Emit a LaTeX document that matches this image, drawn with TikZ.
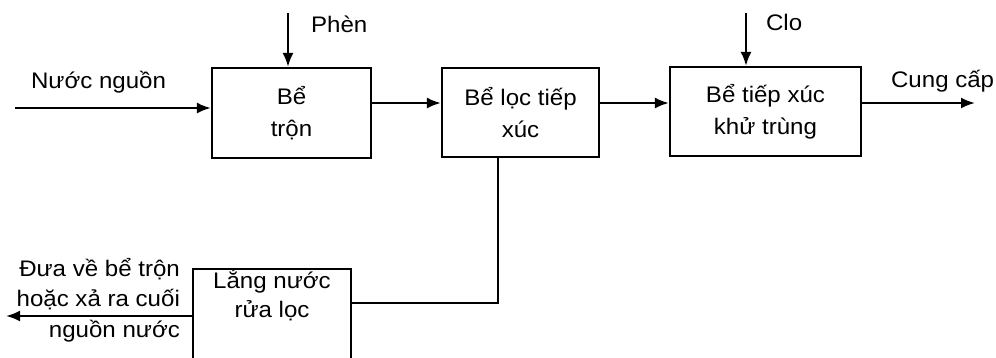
\documentclass[tikz,border=0pt]{standalone}
\usepackage{fontspec}
\setmainfont{Liberation Sans}[FakeStretch=1.07]
\usetikzlibrary{arrows.meta}
\begin{document}
\begin{tikzpicture}[x=1pt,y=-1pt,
  line width=2.2pt,
  arr/.style={-{Latex[length=14pt,width=11pt]}},
  tank/.style={draw,line width=2.2pt,inner sep=0pt},
  lbl/.style={inner sep=0pt,font=\fontsize{22.5}{32}\selectfont},
  boxtext/.style={inner sep=0pt,align=center,font=\fontsize{22.5}{32}\selectfont}]
\useasboundingbox (0,0) rectangle (996,357);
\clip (0,0) rectangle (996,357);
% tanks
\node[tank,minimum width=159pt,minimum height=90pt] (b1) at (291.5,113) {};
\node[tank,minimum width=157pt,minimum height=89pt] (b2) at (520.5,112.5) {};
\node[tank,minimum width=191pt,minimum height=89pt] (b3) at (765.5,111.5) {};
\node[tank,minimum width=158pt,minimum height=101pt] (b4) at (272,319.5) {};
% tank texts
\node[boxtext] (t1) at (b1.center) {Bể\\trộn};
\node[boxtext] (t2) at (b2.center) {Bể lọc tiếp\\xúc};
\node[boxtext] (t3) at (b3.center) {Bể tiếp xúc\\khử trùng};
\node[boxtext,font=\fontsize{22.5}{29}\selectfont] (t4) at (272,295) {Lắng nước\\rửa lọc};
% helper coordinates
\coordinate (src) at (15,108);
\coordinate (phen) at (288,13);
\coordinate (clo) at (746,13);
\coordinate (r1) at (0,103);
\coordinate (out) at (975,103);
\coordinate (dn) at (498,303);
\coordinate (r4) at (0,316);
\coordinate (back) at (6,316);
% connectors
\draw[arr] (src) -- (src -| b1.west);
\draw[arr] (phen) -- (phen |- b1.north);
\draw[arr] (b1.east |- r1) -- (b2.west |- r1);
\draw[arr] (b2.east |- r1) -- (b3.west |- r1);
\draw[arr] (clo) -- (clo |- b3.north);
\draw[arr] (b3.east |- r1) -- (out);
\draw (dn |- b2.south) -- (dn) -- (dn -| b4.east);
\draw[arr] (b4.west |- r4) -- (back);
% labels
\node[lbl,anchor=base west] (l1) at (30,88) {Nước nguồn};
\node[lbl,anchor=base west] (l2) at (310,32) {Phèn};
\node[lbl,anchor=base west] (l3) at (765,30) {Clo};
\node[lbl,anchor=base west] (l4) at (890,87) {Cung cấp};
\node[lbl,align=right,anchor=east,font=\fontsize{22.5}{30.5}\selectfont] (l5) at (181,300) {Đưa về bể trộn\\hoặc xả ra cuối\\nguồn nước};
\end{tikzpicture}
\end{document}
